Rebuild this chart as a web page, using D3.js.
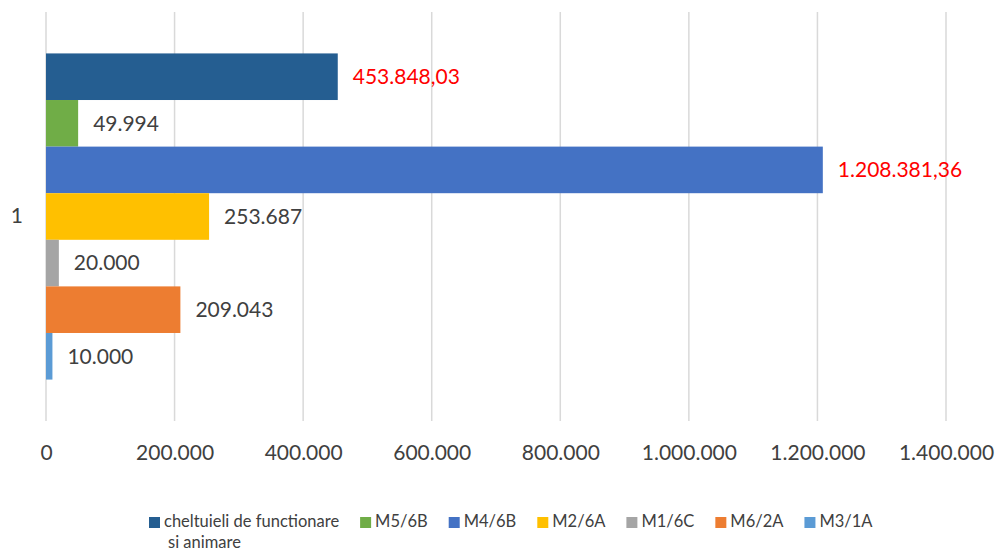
<!DOCTYPE html>
<html>
<head>
<meta charset="utf-8">
<script src="https://cdn.jsdelivr.net/npm/d3@7"></script>
<style>
  body { margin: 0; background: #fff; }
  text { font-family: Lato, "Open Sans", sans-serif; }
</style>
</head>
<body>
<script>
// Width and height
var w = 1000;
var h = 552;

var categories = ["1"];
var seriesNames = ["cheltuieli de functionare si animare", "M5/6B", "M4/6B", "M2/6A", "M1/6C", "M6/2A", "M3/1A"];
var seriesValues = [453848.03, 49994, 1208381.36, 253687, 20000, 209043, 10000];
var valueLabels = ["453.848,03", "49.994", "1.208.381,36", "253.687", "20.000", "209.043", "10.000"];
var tickValues = [0, 200000, 400000, 600000, 800000, 1000000, 1200000, 1400000];
var tickLabels = ["0", "200.000", "400.000", "600.000", "800.000", "1.000.000", "1.200.000", "1.400.000"];

var colors = ["#255E91", "#70AD47", "#4472C4", "#FFC000", "#A5A5A5", "#ED7D31", "#5B9BD5"];
var labelColors = ["#FF0000", "#404040", "#FF0000", "#404040", "#404040", "#404040", "#404040"];

var plot = { left: 46, right: 946, top: 12, bottom: 421 };

var svg = d3.select("body")
    .append("svg")
    .attr("width", w)
    .attr("height", h);

var x = d3.scaleLinear()
    .domain([0, 1400000])
    .range([plot.left, plot.right]);

var y = d3.scaleBand()
    .domain(categories)
    .range([plot.top, plot.bottom])
    .paddingInner(0)
    .paddingOuter(0.127);

var ySeries = d3.scaleBand()
    .domain(seriesNames)
    .range([0, y.bandwidth()]);

// gridlines
svg.append("g")
    .selectAll("line")
    .data(tickValues)
    .enter()
    .append("line")
    .attr("x1", function(d) { return x(d); })
    .attr("x2", function(d) { return x(d); })
    .attr("y1", plot.top)
    .attr("y2", plot.bottom)
    .attr("stroke", "#d9d9d9")
    .attr("stroke-width", 1.5);

// x axis labels
var xAxis = d3.axisBottom(x)
    .tickValues(tickValues)
    .tickFormat(function(d, i) { return tickLabels[i]; })
    .tickSize(0)
    .tickPadding(0);

var gx = svg.append("g")
    .attr("transform", "translate(0," + 445 + ")")
    .call(xAxis);
gx.select(".domain").remove();
gx.selectAll("text")
    .attr("fill", "#404040")
    .attr("font-size", "21px")
    .attr("dy", "0.71em");

// category label
var yAxis = d3.axisLeft(y).tickSize(0).tickPadding(23);
var gy = svg.append("g")
    .attr("transform", "translate(" + plot.left + ",0)")
    .call(yAxis);
gy.select(".domain").remove();
gy.selectAll("text")
    .attr("fill", "#404040")
    .attr("font-size", "21px");

// bars
var bars = svg.append("g")
    .attr("transform", "translate(0," + y(categories[0]) + ")");

bars.selectAll("rect")
    .data(seriesValues)
    .enter()
    .append("rect")
    .attr("x", x(0))
    .attr("y", function(d, i) { return ySeries(seriesNames[i]); })
    .attr("width", function(d) { return x(d) - x(0); })
    .attr("height", ySeries.bandwidth())
    .attr("fill", function(d, i) { return colors[i]; });

bars.selectAll("text")
    .data(seriesValues)
    .enter()
    .append("text")
    .text(function(d, i) { return valueLabels[i]; })
    .attr("x", function(d) { return x(d) + 15; })
    .attr("y", function(d, i) { return ySeries(seriesNames[i]) + ySeries.bandwidth() / 2; })
    .attr("dy", "0.35em")
    .attr("font-size", "21px")
    .attr("fill", function(d, i) { return labelColors[i]; });

// legend
var legend = svg.append("g");
var lx = 149;
var ly = 527;
seriesNames.forEach(function(name, i) {
    legend.append("rect")
        .attr("x", lx)
        .attr("y", ly - 10)
        .attr("width", 11)
        .attr("height", 11)
        .attr("fill", colors[i]);
    var t = legend.append("text")
        .attr("x", lx + 15)
        .attr("y", ly)
        .attr("font-size", "16.5px")
        .attr("fill", "#404040");
    var tw;
    if (i === 0) {
        t.text("cheltuieli de functionare");
        tw = t.node().getComputedTextLength();
        legend.append("text")
            .text("si animare")
            .attr("x", lx + 19)
            .attr("y", ly + 21)
            .attr("font-size", "16.5px")
            .attr("fill", "#404040");
    } else {
        t.text(name);
        tw = t.node().getComputedTextLength();
    }
    lx = lx + 15 + tw + 21;
});
</script>
</body>
</html>
